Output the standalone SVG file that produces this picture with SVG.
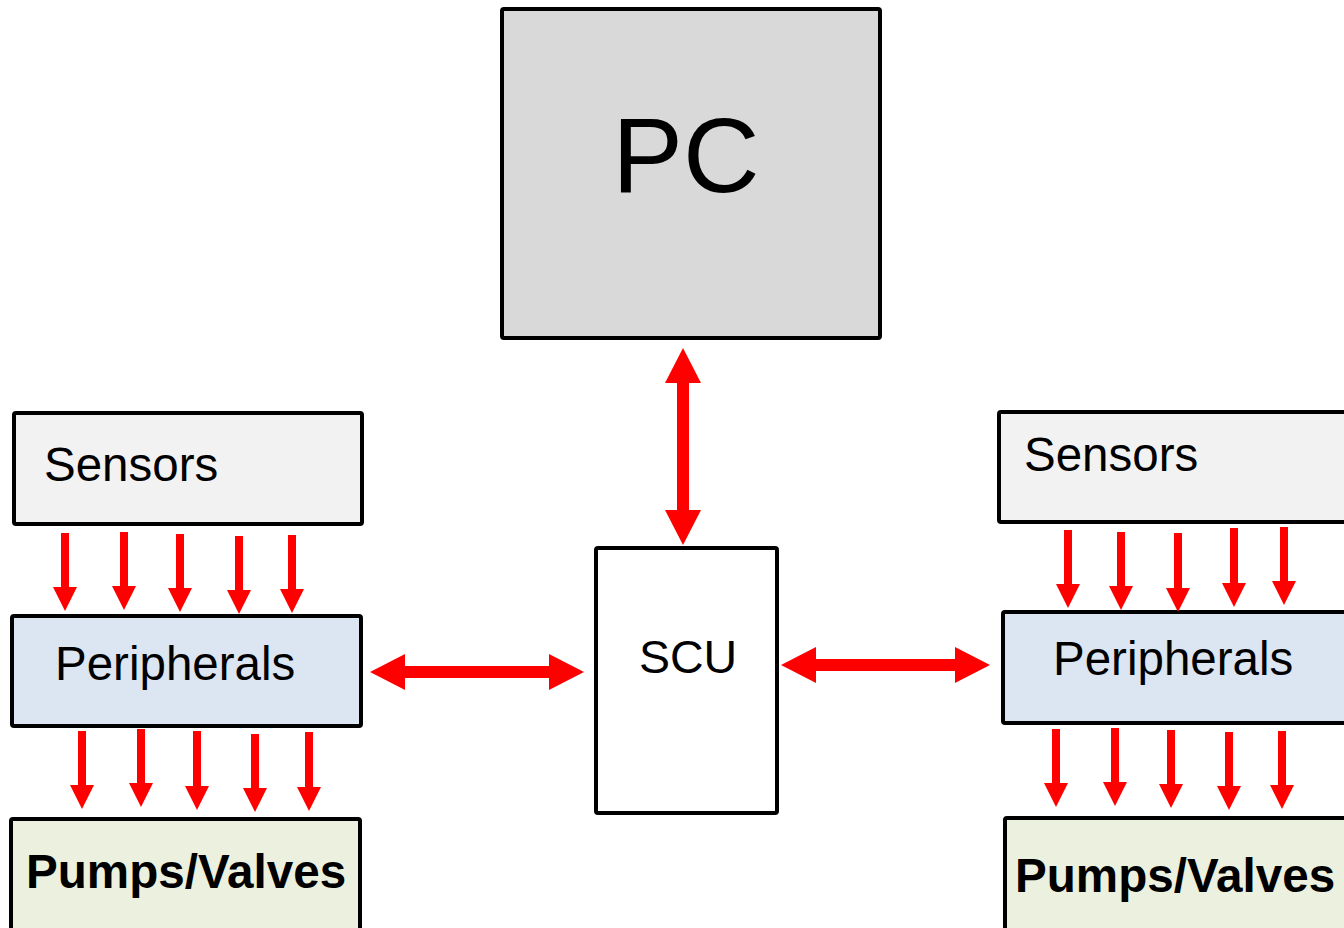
<svg xmlns="http://www.w3.org/2000/svg" width="1344" height="928" viewBox="0 0 1344 928">
<style>
.box{stroke:#000;stroke-width:4}
.t{font-family:"Liberation Sans",Arial,sans-serif;fill:#000}
.small{stroke:#ff0000;stroke-width:8;fill:none;marker-end:url(#sh)}
.big{stroke:#ff0000;stroke-width:12;fill:none;marker-start:url(#bh);marker-end:url(#bh)}
</style>
<defs>
<marker id="sh" markerUnits="userSpaceOnUse" viewBox="0 0 24 24" markerWidth="24" markerHeight="24" refX="0" refY="12" orient="auto"><path d="M0,0 L24,12 L0,24 z" fill="#ff0000"/></marker>
<marker id="bh" markerUnits="userSpaceOnUse" viewBox="0 0 35 36" markerWidth="35" markerHeight="36" refX="0" refY="18" orient="auto-start-reverse"><path d="M0,0 L35,18 L0,36 z" fill="#ff0000"/></marker>
</defs>
<rect width="1344" height="928" fill="#fff"/>
<g id="pc"><rect class="box" x="502" y="9" width="378" height="329" rx="2" fill="#d9d9d9"/><text class="t" x="686" y="192" font-size="106" text-anchor="middle">PC</text></g>
<g id="scu"><rect class="box" x="596" y="548" width="181" height="265" rx="2" fill="#fff"/><text class="t" x="688" y="673" font-size="46.5" text-anchor="middle">SCU</text></g>
<g id="sensors-left"><rect class="box" x="14" y="413" width="348" height="111" rx="2" fill="#f2f2f2"/><text class="t" x="44" y="481" font-size="47.5">Sensors</text></g>
<g id="peripherals-left"><rect class="box" x="12" y="616" width="349" height="110" rx="2" fill="#dce6f2"/><text class="t" x="55" y="680" font-size="47.5">Peripherals</text></g>
<g id="pumps-left"><rect class="box" x="11" y="819" width="349" height="120" rx="2" fill="#ebf1de"/><text class="t" x="26" y="888" font-size="47.6" font-weight="bold">Pumps/Valves</text></g>
<g id="sensors-right"><rect class="box" x="999" y="412" width="360" height="110" rx="2" fill="#f2f2f2"/><text class="t" x="1024" y="471" font-size="47.5">Sensors</text></g>
<g id="peripherals-right"><rect class="box" x="1003" y="612" width="360" height="111" rx="2" fill="#dce6f2"/><text class="t" x="1053" y="675" font-size="47.5">Peripherals</text></g>
<g id="pumps-right"><rect class="box" x="1005" y="818" width="360" height="120" rx="2" fill="#ebf1de"/><text class="t" x="1015" y="892" font-size="47.6" font-weight="bold">Pumps/Valves</text></g>
<g id="connectors">
<line class="big" x1="683" y1="383" x2="683" y2="510"/>
<line class="big" x1="405" y1="672" x2="549" y2="672"/>
<line class="big" x1="816" y1="665" x2="955" y2="665"/>
<line class="small" x1="65" y1="533" x2="65" y2="587"/>
<line class="small" x1="124" y1="532" x2="124" y2="586"/>
<line class="small" x1="180" y1="534" x2="180" y2="588"/>
<line class="small" x1="239" y1="536" x2="239" y2="590"/>
<line class="small" x1="292" y1="535" x2="292" y2="589"/>
<line class="small" x1="82" y1="731" x2="82" y2="785"/>
<line class="small" x1="141" y1="729" x2="141" y2="783"/>
<line class="small" x1="197" y1="731" x2="197" y2="786"/>
<line class="small" x1="255" y1="734" x2="255" y2="788"/>
<line class="small" x1="309" y1="732" x2="309" y2="787"/>
<line class="small" x1="1068" y1="530" x2="1068" y2="584"/>
<line class="small" x1="1121" y1="532" x2="1121" y2="586"/>
<line class="small" x1="1178" y1="533" x2="1178" y2="588"/>
<line class="small" x1="1234" y1="528" x2="1234" y2="583"/>
<line class="small" x1="1284" y1="527" x2="1284" y2="581"/>
<line class="small" x1="1056" y1="729" x2="1056" y2="783"/>
<line class="small" x1="1115" y1="728" x2="1115" y2="782"/>
<line class="small" x1="1171" y1="730" x2="1171" y2="784"/>
<line class="small" x1="1229" y1="732" x2="1229" y2="786"/>
<line class="small" x1="1282" y1="731" x2="1282" y2="785"/>
</g>
</svg>
